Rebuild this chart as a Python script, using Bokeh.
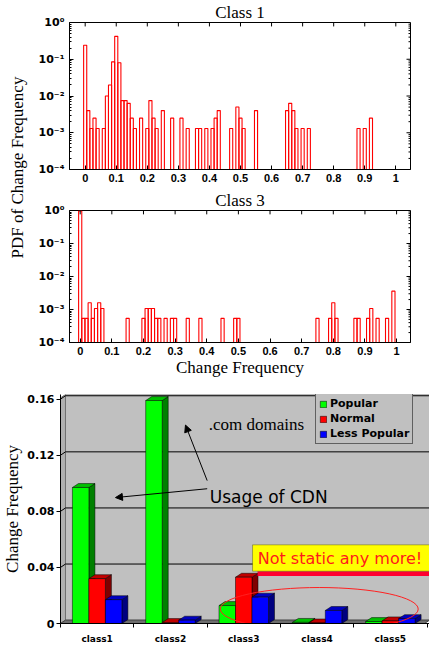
import math
from bokeh.plotting import figure
from bokeh.layouts import column, row
from bokeh.models import (Range1d, FixedTicker, Label, Arrow,
                          NormalHead, Legend, LegendItem, BoxAnnotation)
from bokeh.embed import file_html
from bokeh.resources import INLINE

# ---------------- data: histograms ----------------
class1_change = [0.00, 0.01, 0.02, 0.03, 0.04, 0.06, 0.07, 0.08, 0.09, 0.10,
                 0.11, 0.12, 0.13, 0.14, 0.15, 0.16, 0.18, 0.20, 0.21, 0.22,
                 0.23, 0.25, 0.28, 0.31, 0.33, 0.36, 0.37, 0.39, 0.41, 0.42,
                 0.43, 0.47, 0.49, 0.50, 0.51, 0.55, 0.65, 0.66, 0.67, 0.68,
                 0.70, 0.72, 0.88, 0.90, 0.92]
class1_pdf = [0.24, 0.004, 0.0013, 0.0025, 0.0013, 0.0013, 0.01, 0.02, 0.085, 0.42,
              0.08, 0.0075, 0.0075, 0.0063, 0.0025, 0.0013, 0.0025, 0.0013, 0.0075, 0.0025,
              0.0013, 0.004, 0.0025, 0.0025, 0.0013, 0.0013, 0.0013, 0.0013, 0.0013, 0.0025,
              0.004, 0.0013, 0.005, 0.0025, 0.0013, 0.004, 0.004, 0.0063, 0.004, 0.0013,
              0.0013, 0.0013, 0.0013, 0.0013, 0.0025]

class3_change = [0.00, 0.01, 0.02, 0.03, 0.04, 0.05, 0.06, 0.07, 0.15, 0.20,
                 0.21, 0.22, 0.23, 0.24, 0.25, 0.27, 0.29, 0.30, 0.34, 0.38,
                 0.45, 0.49, 0.50, 0.75, 0.79, 0.80, 0.81, 0.87, 0.88, 0.91,
                 0.92, 0.94, 0.97, 0.99]
class3_pdf = [0.97, 0.00054, 0.00054, 0.0016, 0.00054, 0.00107, 0.0016, 0.00107, 0.00054, 0.00054,
              0.00107, 0.00107, 0.00107, 0.00054, 0.00054, 0.00054, 0.00054, 0.00054, 0.00054, 0.00054,
              0.00054, 0.00054, 0.00054, 0.00054, 0.00054, 0.0016, 0.00054, 0.00054, 0.00054, 0.00054,
              0.00107, 0.00054, 0.00054, 0.0036]

bin_width = 0.01
bin_centers = [round(bin_width * k, 2) for k in range(101)]

hist_ticks = [0, 0.1, 0.2, 0.3, 0.4, 0.5, 0.6, 0.7, 0.8, 0.9, 1]
hist_tick_labels = ["0", "0.1", "0.2", "0.3", "0.4", "0.5", "0.6", "0.7", "0.8", "0.9", "1"]
log_ticks = [0.0001, 0.001, 0.01, 0.1, 1]
log_tick_labels = ["10\u207b\u2074", "10\u207b\u00b3", "10\u207b\u00b2", "10\u207b\u00b9", "10\u2070"]
log_minor = [m * t for t in log_ticks[:-1] for m in range(2, 10)]

# ---------------- data: bar chart ----------------
classes = ["class1", "class2", "class3", "class4", "class5"]
series_names = ["Popular", "Normal", "Less Popular"]
popular = [0.097, 0.159, 0.0128, 0.0008, 0.0014]
normal = [0.032, 0.0007, 0.033, 0.0004, 0.0019]
less_popular = [0.017, 0.0024, 0.0188, 0.0093, 0.0035]
bar_ticks = [0, 0.04, 0.08, 0.12, 0.16]
bar_tick_labels = ["0", "0.04", "0.08", "0.12", "0.16"]

front_colors = ["#00ff00", "#ff0000", "#0000ff"]
side_colors = ["#008000", "#800000", "#000080"]
top_colors = ["#00c000", "#c00000", "#0000c0"]

SERIF = "Liberation Serif"
HIST_W = 399
HIST_BL, HIST_BR = 39, 19


def black_axis(ax):
    ax.axis_line_color = "black"
    ax.major_tick_line_color = "black"
    ax.minor_tick_line_color = "black"
    ax.major_label_text_color = "black"
    ax.axis_label_text_color = "black"


def histogram(title_text, xs, ys, height, b_top, b_bottom, x_start, x_end, xlabel=None):
    p = figure(width=HIST_W, height=height, output_backend="svg", toolbar_location=None,
               x_range=Range1d(x_start, x_end),
               y_range=Range1d(log_ticks[0], log_ticks[-1]), y_axis_type="log",
               min_border_left=HIST_BL, min_border_right=HIST_BR,
               min_border_top=b_top, min_border_bottom=b_bottom)
    p.background_fill_color = "white"
    p.border_fill_color = "white"
    p.outline_line_color = "black"
    p.grid.visible = False

    lookup = dict(zip(xs, ys))
    tops = [lookup.get(c, log_ticks[0]) for c in bin_centers]
    p.vbar(x=bin_centers, top=tops, bottom=log_ticks[0], width=bin_width,
           fill_color=None, line_color="#ff0000", line_width=1.1)

    # mirrored inward ticks on top and right edges
    frame_w = HIST_W - HIST_BL - HIST_BR
    frame_h = height - b_top - b_bottom
    x_per_px = (x_end - x_start) / frame_w
    dec_per_px = (len(log_ticks) - 1) / frame_h
    p.segment(x0=hist_ticks, x1=hist_ticks, y0=log_ticks[-1],
              y1=log_ticks[-1] * 10 ** (-4 * dec_per_px), line_color="black", line_width=1)
    p.segment(x0=x_end, x1=x_end - 4 * x_per_px, y0=log_ticks, y1=log_ticks,
              line_color="black", line_width=1)
    p.segment(x0=x_end, x1=x_end - 2 * x_per_px, y0=log_minor, y1=log_minor,
              line_color="black", line_width=1)

    p.title.text = title_text
    p.title.align = "center"
    p.title.text_font = SERIF
    p.title.text_font_style = "normal"
    p.title.text_font_size = "17px"
    p.title.text_color = "black"
    p.title.standoff = 1

    xa = p.xaxis[0]
    black_axis(xa)
    xa.ticker = FixedTicker(ticks=hist_ticks, minor_ticks=[])
    xa.major_label_overrides = dict(zip(hist_ticks, hist_tick_labels))
    xa.major_tick_in = 4
    xa.major_tick_out = 0
    xa.major_label_standoff = 4
    xa.major_label_text_font = "Liberation Sans"
    xa.major_label_text_font_style = "bold"
    xa.major_label_text_font_size = "11px"
    if xlabel:
        xa.axis_label = xlabel
        xa.axis_label_text_font = SERIF
        xa.axis_label_text_font_style = "normal"
        xa.axis_label_text_font_size = "17px"
        xa.axis_label_standoff = 0

    ya = p.yaxis[0]
    black_axis(ya)
    ya.ticker = FixedTicker(ticks=log_ticks, minor_ticks=log_minor)
    ya.major_label_overrides = dict(zip(log_ticks, log_tick_labels))
    ya.major_tick_in = 4
    ya.major_tick_out = 0
    ya.minor_tick_in = 2
    ya.minor_tick_out = 0
    ya.major_label_standoff = 5
    ya.major_label_text_font = "DejaVu Sans"
    ya.major_label_text_font_style = "bold"
    ya.major_label_text_font_size = "11px"
    return p


p1 = histogram("Class 1", class1_change, class1_pdf, 188, 20, 19, -0.0505, 1.0473)
p2 = histogram("Class 3", class3_change, class3_pdf, 195, 17, 41, -0.0338, 1.044,
               xlabel="Change Frequency")

# shared y label for the two histograms
lab = figure(width=30, height=383, x_range=Range1d(0, 30), y_range=Range1d(0, 383),
             x_axis_type=None, y_axis_type=None, output_backend="svg",
             toolbar_location=None, min_border=0)
lab.outline_line_color = None
lab.background_fill_color = "white"
lab.border_fill_color = "white"
lab.add_layout(Label(x=17, y=216, text="PDF of Change Frequency", angle=math.pi / 2,
                     text_align="center", text_baseline="middle", text_font=SERIF,
                     text_font_size="17px", text_color="black"))

# ---------------- bar chart ----------------
x_lo, x_hi = 0.5, 5.534
y_end = 0.1633
wall_dx, wall_dy = 0.068, 0.0024
bar_dx, bar_dy = 0.082, 0.0028
bar_w = 0.225

p3 = figure(width=429, height=263, output_backend="svg", toolbar_location=None,
            x_range=Range1d(x_lo, x_hi), y_range=Range1d(0, y_end),
            min_border_left=60, min_border_right=0, min_border_top=11, min_border_bottom=18)
p3.background_fill_color = "white"
p3.border_fill_color = "white"
p3.outline_line_color = None
p3.grid.visible = False

# walls and floor
p3.quad(left=[x_lo + wall_dx], right=[x_hi], bottom=[wall_dy], top=[y_end],
        fill_color="#c0c0c0", line_color="#808080", line_width=1)
p3.patch([x_lo, x_lo, x_lo + wall_dx, x_lo + wall_dx], [0, y_end - wall_dy, y_end, wall_dy],
         fill_color="#b0b0b0", line_color="#707070", line_width=1)
p3.patch([x_lo, x_hi - wall_dx, x_hi, x_lo + wall_dx], [0, 0, wall_dy, wall_dy],
         fill_color="#6e6e6e", line_color="#404040", line_width=1)
p3.multi_line(xs=[[x_lo, x_lo + wall_dx, x_hi] for v in bar_ticks[1:]],
              ys=[[v, v + wall_dy, v + wall_dy] for v in bar_ticks[1:]],
              line_color="black", line_width=1)

# 3D faces (side + top), drawn left to right
series = [popular, normal, less_popular]
offsets = [-bar_w, 0.0, bar_w]
face_xs, face_ys, face_cols = [], [], []
for ci, _ in enumerate(classes):
    for si, vals in enumerate(series):
        xc = ci + 1 + offsets[si]
        xl, xr, t = xc - bar_w / 2, xc + bar_w / 2, vals[ci]
        face_xs.append([xr, xr + bar_dx, xr + bar_dx, xr])
        face_ys.append([0, bar_dy, t + bar_dy, t])
        face_cols.append(side_colors[si])
        face_xs.append([xl, xr, xr + bar_dx, xl + bar_dx])
        face_ys.append([t, t, t + bar_dy, t + bar_dy])
        face_cols.append(top_colors[si])
p3.patches(xs=face_xs, ys=face_ys, fill_color=face_cols, line_color="black", line_width=0.5)

front_renderers = []
for si, vals in enumerate(series):
    r = p3.vbar(x=[ci + 1 + offsets[si] for ci in range(len(classes))], top=vals, bottom=0,
                width=bar_w, fill_color=front_colors[si], line_color="black", line_width=0.5)
    front_renderers.append(r)

xa = p3.xaxis[0]
black_axis(xa)
xa.ticker = FixedTicker(ticks=[i + 1 for i in range(len(classes))],
                        minor_ticks=[i + 0.5 for i in range(len(classes) + 1)])
xa.major_label_overrides = {i + 1: c for i, c in enumerate(classes)}
xa.major_tick_in = 0
xa.major_tick_out = 0
xa.minor_tick_in = 0
xa.minor_tick_out = 4
xa.major_label_standoff = 6
xa.major_label_text_font = "DejaVu Sans"
xa.major_label_text_font_style = "bold"
xa.major_label_text_font_size = "9px"

ya = p3.yaxis[0]
black_axis(ya)
ya.ticker = FixedTicker(ticks=bar_ticks, minor_ticks=[])
ya.major_label_overrides = dict(zip(bar_ticks, bar_tick_labels))
ya.major_tick_in = 0
ya.major_tick_out = 4
ya.major_label_standoff = 2
ya.major_label_text_font = "DejaVu Sans"
ya.major_label_text_font_style = "bold"
ya.major_label_text_font_size = "11px"
ya.axis_label = "Change Frequency"
ya.axis_label_text_font = SERIF
ya.axis_label_text_font_style = "normal"
ya.axis_label_text_font_size = "17px"
ya.axis_label_standoff = 2

legend = Legend(items=[LegendItem(label=n, renderers=[r]) for n, r in zip(series_names, front_renderers)],
                location=(255, 179), orientation="vertical",
                label_text_font="DejaVu Sans", label_text_font_style="bold",
                label_text_font_size="11px", label_text_color="black",
                glyph_width=8, glyph_height=8,
                label_height=10, label_standoff=3, spacing=2, padding=3, margin=0,
                background_fill_color="#c0c0c0", background_fill_alpha=1,
                border_line_color="black", border_line_width=1)
p3.add_layout(legend)

# annotations
p3.add_layout(Label(x=2.523, y=0.142, text=".com domains", text_font=SERIF,
                    text_font_size="17px", text_color="black", text_baseline="alphabetic"))
p3.add_layout(Label(x=2.537, y=0.0903, text="Usage of CDN", text_font="DejaVu Sans",
                    text_font_size="17px", text_color="black", text_baseline="alphabetic"))
p3.add_layout(Arrow(end=NormalHead(size=7, fill_color="black", line_color="black"),
                    x_start=2.501, y_start=0.0961, x_end=1.25, y_end=0.0898,
                    line_color="black", line_width=1))
p3.add_layout(Arrow(end=NormalHead(size=7, fill_color="black", line_color="black"),
                    x_start=2.501, y_start=0.1019, x_end=2.205, y_end=0.1415,
                    line_color="black", line_width=1))
p3.ellipse(x=[4.03], y=[0.0103], width=2.70, height=0.0307, fill_color=None,
           line_color="#ff2020", line_width=1)
p3.add_layout(BoxAnnotation(left=3.12 + 0.068, right=x_hi, bottom=0.0338, top=0.0373,
                            fill_color="#ff0030", fill_alpha=1, line_color=None))
p3.add_layout(BoxAnnotation(left=3.12, right=x_hi, bottom=0.0373, top=0.0561,
                            fill_color="#ffff00", fill_alpha=1, line_color="black", line_width=1))
p3.add_layout(Label(x=3.19, y=0.0467, text="Not static any more!", text_font="DejaVu Sans",
                    text_font_size="16px", text_color="#ff1a1a", text_baseline="middle"))

layout = column(row(lab, column(p1, p2)), p3)
open("out.html", "w").write(file_html(layout, INLINE))
